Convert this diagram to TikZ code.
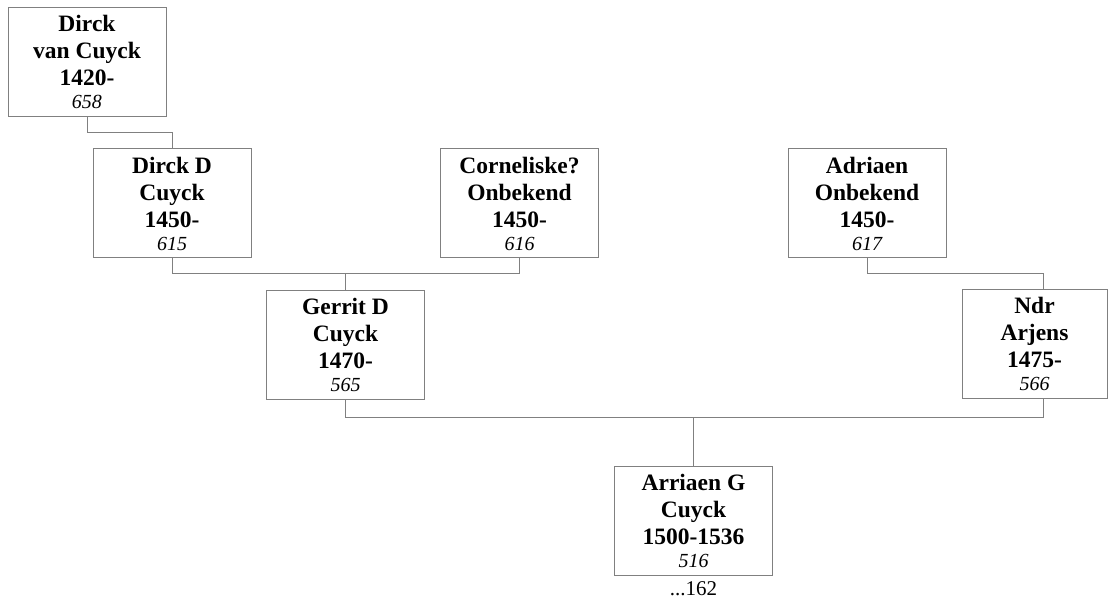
\documentclass[tikz,border=0pt]{standalone}
\usepackage{fontspec}
\setmainfont{Liberation Serif}
\usetikzlibrary{calc}
\begin{document}
\begin{tikzpicture}[x=1pt,y=1pt,
  person/.style={draw=black!50, line width=1pt, fill=white, minimum width=158pt,
    minimum height=109pt, align=center, inner sep=0pt,
    font=\fontsize{23.5}{27}\selectfont\bfseries},
  link/.style={draw=black!50, line width=1pt}]
\useasboundingbox (0,0) rectangle (1109,-604);
\node[person] (A) at (87,-62) {Dirck\\van Cuyck\\1420-\\[-4pt]{\fontsize{20}{23}\selectfont\mdseries\itshape 658}};
\node[person] (B) at (172,-203.5) {Dirck D\\Cuyck\\1450-\\[-4pt]{\fontsize{20}{23}\selectfont\mdseries\itshape 615}};
\node[person] (C) at (519.5,-203.5) {Corneliske?\\Onbekend\\1450-\\[-4pt]{\fontsize{20}{23}\selectfont\mdseries\itshape 616}};
\node[person] (D) at (867,-203.5) {Adriaen\\Onbekend\\1450-\\[-4pt]{\fontsize{20}{23}\selectfont\mdseries\itshape 617}};
\node[person] (E) at (345.5,-345) {Gerrit D\\Cuyck\\1470-\\[-4pt]{\fontsize{20}{23}\selectfont\mdseries\itshape 565}};
\node[person, minimum width=145pt] (F) at (1034.5,-344) {Ndr\\Arjens\\1475-\\[-4pt]{\fontsize{20}{23}\selectfont\mdseries\itshape 566}};
\node[person] (G) at (693.5,-520.5) {Arriaen G\\Cuyck\\1500-1536\\[-4pt]{\fontsize{20}{23}\selectfont\mdseries\itshape 516}};
\node[font=\fontsize{21}{24}\selectfont, anchor=north, inner sep=0pt] (Gn) at ([yshift=-6pt]G.south) {...162};
% connector points
\coordinate (Ftop) at (1043,-289.5);
\coordinate (Fbot) at (1043,-398.5);
\draw[link] (A.south) -- ++(0,-15.5) -| (B.north);
\draw[link] (B.south) -- ++(0,-15.5) -| (C.south);
\draw[link] (D.south) -- ++(0,-15.5) -| (Ftop);
\coordinate (m1) at ($(B.south)+(0,-15.5)$);
\draw[link] (E.north) -- (E.north |- m1);
\coordinate (m2) at ($(E.south)+(0,-17)$);
\draw[link] (E.south) -- (m2) -| (Fbot);
\draw[link] (G.north) -- (G.north |- m2);
\end{tikzpicture}
\end{document}
